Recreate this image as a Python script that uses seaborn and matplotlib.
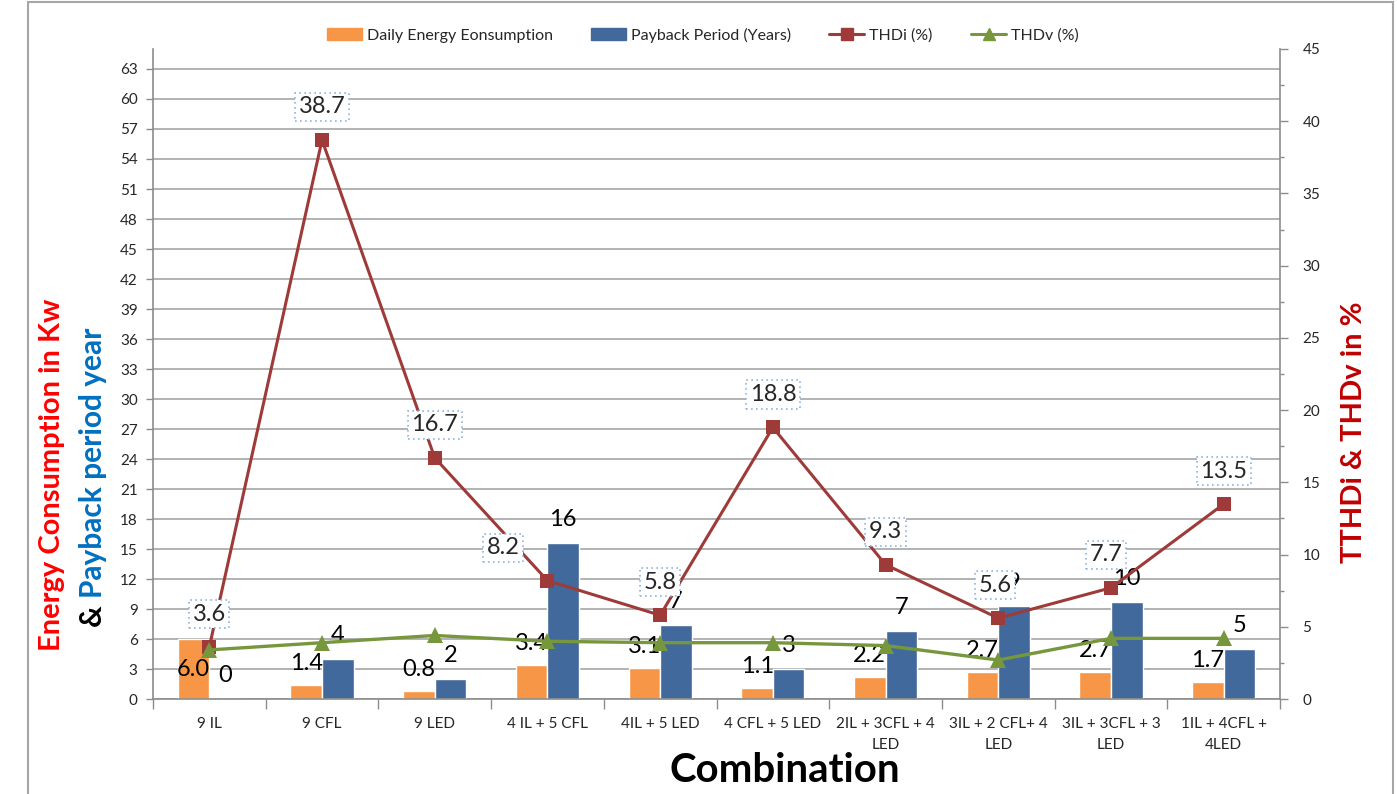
import numpy as np
import pandas as pd
import matplotlib
matplotlib.use("Agg")
import matplotlib.pyplot as plt
import seaborn as sns
from matplotlib.lines import Line2D
from matplotlib.patches import Patch, Rectangle
from matplotlib.ticker import MultipleLocator, FixedLocator

# datos
combinaciones = ["9 IL", "9 CFL", "9 LED", "4 IL + 5 CFL", "4IL + 5 LED",
                 "4 CFL + 5 LED", "2IL + 3CFL + 4\nLED", "3IL + 2 CFL+ 4\nLED",
                 "3IL + 3CFL + 3\nLED", "1IL + 4CFL +\n4LED"]
energia = [6.0, 1.4, 0.8, 3.4, 3.1, 1.1, 2.2, 2.7, 2.7, 1.7]
payback = [0, 4, 2, 15.6, 7.4, 3, 6.8, 9.3, 9.7, 5]
thdi = [3.6, 38.7, 16.7, 8.2, 5.8, 18.8, 9.3, 5.6, 7.7, 13.5]
thdv = [3.4, 3.9, 4.4, 4.0, 3.9, 3.9, 3.7, 2.7, 4.2, 4.2]

serie_e = "Daily Energy Eonsumption"
serie_p = "Payback Period (Years)"

c_naranja = "#F79646"
c_azul = "#41699B"
c_rojo = "#9E3B39"
c_verde = "#77973D"

sns.set_theme(style="white")
plt.rcParams['font.family'] = ['Lato', 'DejaVu Sans']

df = pd.DataFrame({"Combinacion": combinaciones, serie_e: energia, serie_p: payback})
df_largo = df.melt("Combinacion", var_name="Serie", value_name="Valor")

fig, ax = plt.subplots(figsize=(13.97, 7.94), dpi=100)
fig.subplots_adjust(left=0.1095, right=0.9163, bottom=0.1196, top=0.9383)

sns.barplot(data=df_largo, x="Combinacion", y="Valor", hue="Serie",
            palette={serie_e: c_naranja, serie_p: c_azul}, width=0.56, gap=0,
            saturation=1, ax=ax, legend=False, zorder=2)

ax.set_ylim(0, 65)
ax.yaxis.set_major_locator(FixedLocator(np.arange(0, 64, 3)))
ax.grid(axis="y", color="#A6A6A6", lw=1.2, zorder=0)
ax.set_axisbelow(True)
ax.set_xlim(-0.5, len(combinaciones) - 0.5)

# etiquetas de barras
etq_off = {serie_e: [-30] + [22] * 9, serie_p: [24] * 10}
for cont, serie, fmt in zip(ax.containers, [serie_e, serie_p], ["%.1f", "%.0f"]):
    for i, rect in enumerate(cont):
        h = rect.get_height()
        ax.annotate(fmt % h, (rect.get_x() + rect.get_width() / 2, h),
                    xytext=(0, etq_off[serie][i]), textcoords="offset pixels",
                    ha="center", va="center", fontsize=17, color="black", zorder=6)

ax2 = ax.twinx()
pos = np.arange(len(combinaciones))
sns.lineplot(x=pos, y=thdi, ax=ax2, color=c_rojo, marker="s", markersize=10,
             markeredgewidth=0, lw=2.2, sort=False, zorder=4)
sns.lineplot(x=pos, y=thdv, ax=ax2, color=c_verde, marker="^", markersize=11,
             markeredgewidth=0, lw=2.4, sort=False, zorder=4)
ax2.set_ylim(0, 45)
ax2.yaxis.set_major_locator(MultipleLocator(5))
ax2.yaxis.set_minor_locator(MultipleLocator(2.5))
ax2.grid(False)

# la etiqueta 8.2 esta desplazada a la izquierda en el original
dx_thdi = [0, 0, 0, -44, 0, 0, 0, -3, -5, 0]
for x, v, dx in zip(pos, thdi, dx_thdi):
    ax2.annotate("%.1f" % v, (x, v), xytext=(dx, 33), textcoords="offset pixels",
                 ha="center", va="center", fontsize=17, zorder=7,
                 bbox=dict(boxstyle="square,pad=0.15", fc="white", ec="#8EB4E3",
                           ls=(0, (1, 2)), lw=1.2))

# ejes
gris = "#8C8C8C"
for a in (ax, ax2):
    for s in a.spines.values():
        s.set_visible(False)
ax.spines["left"].set_visible(True)
ax.spines["bottom"].set_visible(True)
ax2.spines["right"].set_visible(True)
for s in (ax.spines["left"], ax.spines["bottom"], ax2.spines["right"]):
    s.set_color(gris)
    s.set_linewidth(1.2)

ax.tick_params(axis="y", which="major", direction="out", length=5, width=1,
               color=gris, left=True, labelsize=11, pad=6)
ax.set_xticks(pos)
ax.set_xticklabels(combinaciones, fontsize=11, linespacing=1.6)
ax.xaxis.set_minor_locator(FixedLocator(np.arange(-0.5, len(combinaciones), 1)))
ax.tick_params(axis="x", which="major", length=0, pad=13)
ax.tick_params(axis="x", which="minor", direction="out", length=7, width=1,
               color=gris, bottom=True)
ax2.tick_params(axis="y", which="major", direction="out", length=6, width=1,
                color=gris, right=True, labelsize=11, pad=10)
ax2.tick_params(axis="y", which="minor", direction="out", length=3, width=1,
                color=gris, right=True)

ax.set_ylabel("")
ax2.set_ylabel("")
ax.set_xlabel("")
fig.text(785 / 1397, 1 - 770 / 794, "Combination", ha="center", va="center",
         fontsize=29, fontweight="bold", color="black")

# titulo del eje izquierdo en colores
fig.text(52 / 1397, 1 - 475 / 794, "Energy Consumption in Kw", rotation=90,
         ha="center", va="center", fontsize=21, fontweight="bold", color="#FF0000")
y_base = 1 - 627 / 794
t_amp = fig.text(93 / 1397, y_base, "& ", rotation=90, ha="center", va="bottom",
                 fontsize=21.5, fontweight="bold", color="black")
fig.canvas.draw()
bb = t_amp.get_window_extent(fig.canvas.get_renderer())
fig.text(93 / 1397, bb.y1 / fig.bbox.height, "Payback period year", rotation=90,
         ha="center", va="bottom", fontsize=21.5, fontweight="bold", color="#0070C0")

fig.text(1354 / 1397, 1 - 432 / 794, "TTHDi & THDv in %", rotation=90,
         ha="center", va="center", fontsize=21, fontweight="bold", color="#C00000")

# leyenda
handles = [Patch(color=c_naranja), Patch(color=c_azul),
           Line2D([], [], color=c_rojo, marker="s", lw=2.2, markersize=8),
           Line2D([], [], color=c_verde, marker="^", lw=2.2, markersize=8)]
fig.legend(handles, [serie_e, serie_p, "THDi (%)", "THDv (%)"], loc="center",
           bbox_to_anchor=(0.503, 1 - 35 / 794), ncol=4, frameon=False, fontsize=11.5,
           handlelength=2.2, handletextpad=0.3, columnspacing=2.4)

# borde del area del grafico
fig.patches.append(Rectangle((28 / 1397, -0.01), (1393 - 28) / 1397, 1.008,
                             transform=fig.transFigure, fill=False,
                             ec="#A6A6A6", lw=1.5))

fig.savefig("out.png", dpi=100)
